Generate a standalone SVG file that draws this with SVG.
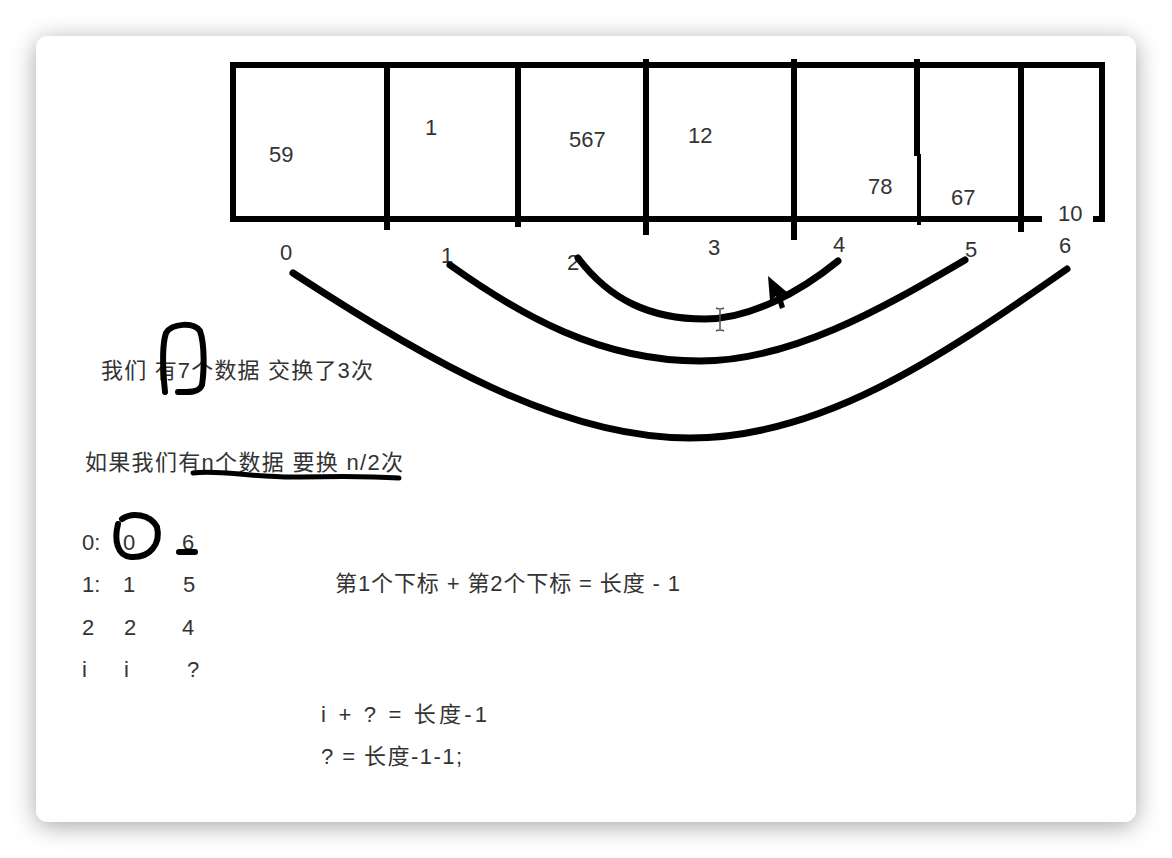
<svg xmlns="http://www.w3.org/2000/svg" width="1172" height="858" viewBox="0 0 1172 858">
<style>
  text { font-family: "Liberation Sans", "Noto Sans CJK SC", sans-serif; font-size: 22px; fill: #333; }
  .box { stroke: #000; stroke-width: 6; fill: none; stroke-linecap: butt; }
  .arc { stroke: #000; stroke-width: 7; fill: none; stroke-linecap: round; }
  .ink { stroke: #000; stroke-width: 6; fill: none; stroke-linecap: round; stroke-linejoin: round; }
</style>
<defs>
  <filter id="shadow" x="-10%" y="-10%" width="120%" height="120%">
    <feDropShadow dx="0" dy="4" stdDeviation="12" flood-color="#000" flood-opacity="0.35"/>
  </filter>
</defs>
<rect x="0" y="0" width="1172" height="858" fill="#ffffff"/>
<rect id="card" x="36" y="36" width="1100" height="786" rx="12" fill="#ffffff" filter="url(#shadow)"/>

<g id="array">
  <line class="box" x1="230" y1="65" x2="1105" y2="65"/>
  <line class="box" x1="233" y1="62" x2="233" y2="222"/>
  <line class="box" x1="230" y1="219" x2="1042" y2="219"/>
  <line class="box" x1="1093" y1="219" x2="1105" y2="219"/>
  <line class="box" x1="1102" y1="62" x2="1102" y2="222"/>
  <line class="box" x1="387" y1="65" x2="387" y2="230"/>
  <line class="box" x1="518" y1="65" x2="518" y2="227"/>
  <line class="box" x1="646" y1="59" x2="646" y2="235"/>
  <line class="box" x1="794" y1="59" x2="794" y2="240"/>
  <line class="box" x1="917" y1="59" x2="917" y2="156"/>
  <line class="box" x1="919" y1="154" x2="919" y2="225" style="stroke-width:4"/>
  <line class="box" x1="1021" y1="65" x2="1021" y2="232"/>
</g>

<g id="values">
  <text x="269" y="162">59</text>
  <text x="425" y="135">1</text>
  <text x="569" y="147">567</text>
  <text x="688" y="143">12</text>
  <text x="868" y="194">78</text>
  <text x="951" y="205">67</text>
  <text x="1058" y="221">10</text>
</g>

<g id="indices">
  <text x="280" y="260">0</text>
  <text x="441" y="263">1</text>
  <text x="567" y="270">2</text>
  <text x="708" y="255">3</text>
  <text x="833" y="252">4</text>
  <text x="965" y="257">5</text>
  <text x="1059" y="253">6</text>
</g>

<g id="connectors">
  <path class="arc" d="M293,273 C423,358 560,438 690,438 C820,438 937,360 1067,269"/>
  <path class="arc" d="M450,265 C520,315 600,361 700,361 C790,361 880,310 965,260"/>
  <path class="arc" d="M578,258 C610,300 650,319 705,319 C750,319 800,292 838,261"/>
</g>

<g id="cursors">
  <polygon points="768,276 770,301 776,296 780,309 785,307 781,294 788,293" fill="#000"/>
  <g stroke="#555" stroke-width="1.5" fill="none">
    <line x1="720" y1="310" x2="720" y2="329"/>
    <path d="M716,308 Q720,310 724,308 M716,331 Q720,329 724,331"/>
  </g>
</g>

<g id="note1">
  <text x="101" y="378" textLength="272" lengthAdjust="spacing">我们 有7个数据  交换了3次</text>
  <path class="ink" d="M165,392 C163,372 162,345 166,333 C172,323 194,322 200,331 C205,345 204,372 202,385 C199,393 188,392 178,392"/>
</g>

<g id="note2">
  <text x="85" y="470" textLength="318" lengthAdjust="spacing">如果我们有n个数据 要换 n/2次</text>
  <path class="ink" style="stroke-width:5" d="M193,473 C220,469 250,478 300,477 C340,476 370,476 399,478"/>
</g>

<g id="table">
  <text x="82" y="550">0:</text>
  <text x="123" y="550">0</text>
  <text x="182" y="550">6</text>
  <text x="82" y="592">1:</text>
  <text x="123" y="592">1</text>
  <text x="183" y="592">5</text>
  <text x="82" y="635">2</text>
  <text x="124" y="635">2</text>
  <text x="182" y="635">4</text>
  <text x="82" y="677">i</text>
  <text x="124" y="677">i</text>
  <text x="187" y="677">?</text>
  <path class="ink" d="M122,519 C132,512 150,514 157,527 C161,544 150,558 131,557 C117,556 114,540 118,524"/>
  <line class="ink" x1="179" y1="552" x2="195" y2="552"/>
</g>

<g id="formulas">
  <text x="335" y="591" textLength="345" lengthAdjust="spacing">第1个下标 + 第2个下标 = 长度 - 1</text>
  <text x="321" y="722" textLength="166" lengthAdjust="spacing">i  +  ?  = 长度-1</text>
  <text x="321" y="764" textLength="141" lengthAdjust="spacing">? = 长度-1-1;</text>
</g>
</svg>
